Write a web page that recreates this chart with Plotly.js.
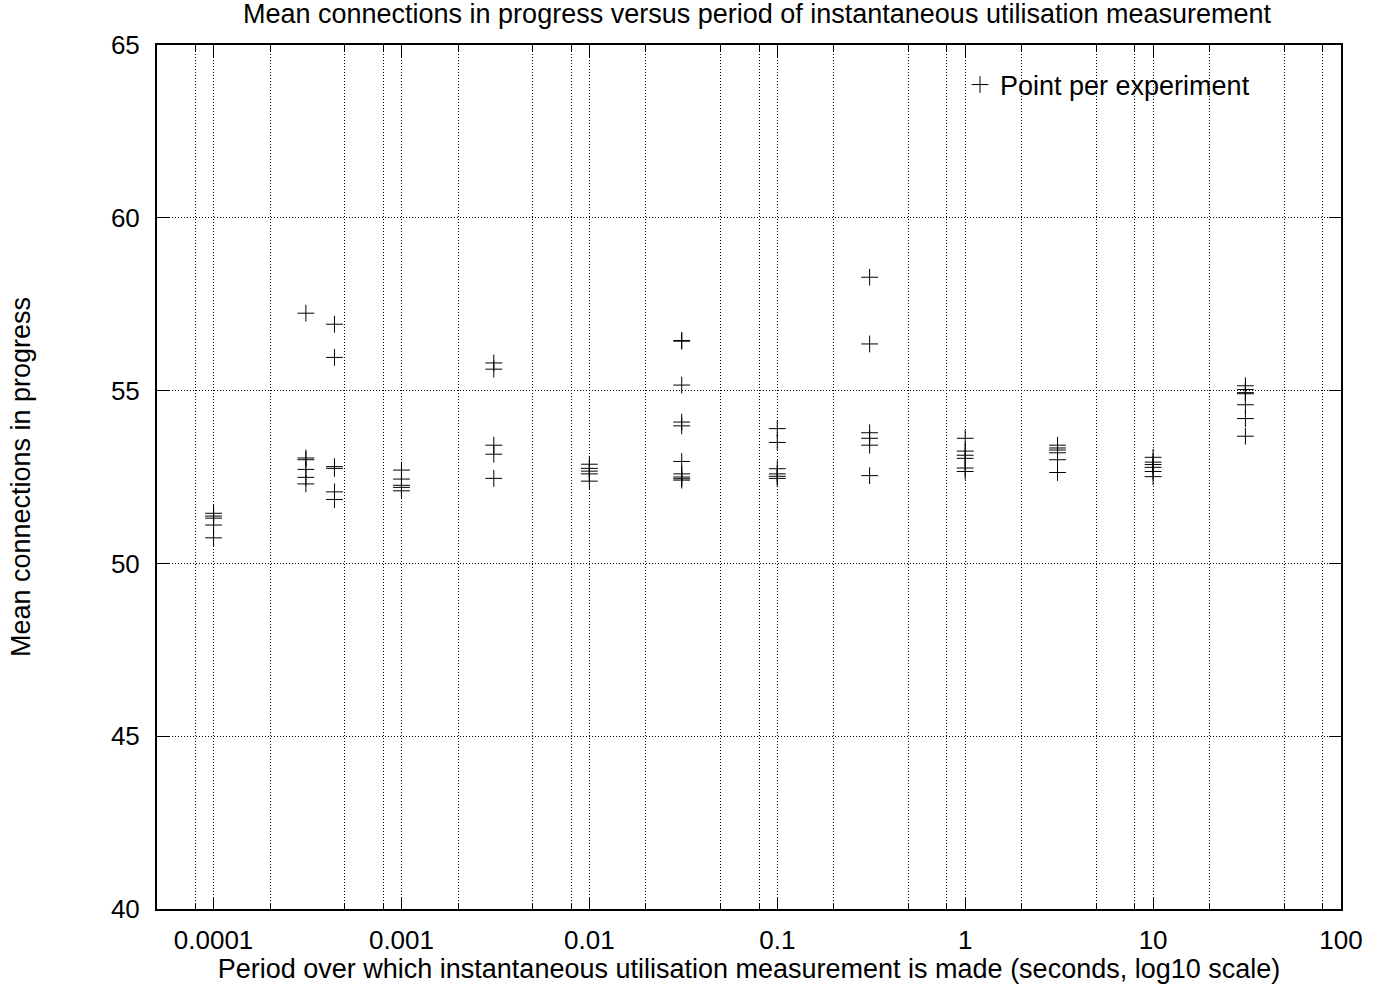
<!DOCTYPE html>
<html>
<head>
<meta charset="utf-8">
<script src="https://cdn.plot.ly/plotly-3.0.1.min.js"></script>
<style>html,body{margin:0;padding:0;background:#fff;}#chart{width:1379px;height:984px;}</style>
</head>
<body>
<div id="chart"></div>
<script>
// Measurement periods (seconds) and the mean connections measured in each experiment
const periods = [0.0001, 0.00031, 0.00044, 0.001, 0.0031, 0.01, 0.031, 0.1, 0.31, 1, 3.1, 10, 31];
const at_0_0001 = [51.45, 51.37, 51.31, 51.11, 50.74];
const at_0_00031 = [57.24, 53.05, 53.00, 52.72, 52.49, 52.30];
const at_0_00044 = [56.92, 55.96, 52.80, 52.75, 52.07, 51.85];
const at_0_001 = [52.70, 52.44, 52.26, 52.20, 52.10];
const at_0_0031 = [55.80, 55.62, 53.42, 53.16, 52.46];
const at_0_01 = [52.87, 52.75, 52.67, 52.59, 52.38];
const at_0_031 = [56.45, 56.43, 55.16, 54.09, 53.98, 52.95, 52.59, 52.50, 52.45, 52.41];
const at_0_1 = [53.90, 53.50, 52.74, 52.59, 52.52, 52.46];
const at_0_31 = [58.28, 56.35, 53.78, 53.62, 53.42, 52.54];
const at_1 = [53.62, 53.25, 53.13, 53.04, 52.76, 52.66];
const at_3_1 = [53.42, 53.34, 53.28, 53.20, 53.00, 52.63];
const at_10 = [53.07, 52.93, 52.86, 52.78, 52.66, 52.51];
const at_31 = [55.14, 55.03, 54.94, 54.91, 54.59, 54.19, 53.68];

const xTickVals = [0.0001, 0.001, 0.01, 0.1, 1, 10, 100];
const xTickText = ["0.0001", "0.001", "0.01", "0.1", "1", "10", "100"];
const xMinorVals = [0.00008, 0.0002, 0.0005, 0.0008, 0.002, 0.005, 0.008, 0.02, 0.05, 0.08,
                    0.2, 0.5, 0.8, 2, 5, 8, 20, 50, 80];
const yTickVals = [40, 45, 50, 55, 60, 65];

const groups = [at_0_0001, at_0_00031, at_0_00044, at_0_001, at_0_0031, at_0_01, at_0_031,
                at_0_1, at_0_31, at_1, at_3_1, at_10, at_31];
const xs = [], ys = [];
groups.forEach((g, i) => g.forEach(v => { xs.push(periods[i]); ys.push(v); }));

const FONT = "Liberation Sans, Arial, Helvetica, sans-serif";
const FS_TICK = 26;
const FS_TEXT = 27;
const DOT = "1px,2px";

const trace = {
  type: "scatter",
  mode: "markers",
  name: "Point per experiment",
  x: xs,
  y: ys,
  marker: {symbol: "cross-thin-open", size: 12, color: "#000", line: {color: "#000", width: 1}}
};

const layout = {
  width: 1379,
  height: 984,
  margin: {l: 157, r: 38, t: 45, b: 75, pad: 0},
  paper_bgcolor: "#fff",
  plot_bgcolor: "#fff",
  font: {family: FONT, size: FS_TEXT, color: "#000"},
  title: {
    text: "Mean connections in progress versus period of instantaneous utilisation measurement",
    font: {family: FONT, size: FS_TEXT, color: "#000"},
    x: 757 / 1379, xref: "container", xanchor: "center",
    y: 1 - 14 / 984, yref: "container", yanchor: "middle"
  },
  showlegend: true,
  legend: {
    x: (1255 - 157) / 1184, xanchor: "right",
    y: 1 - (85 - 45) / 864, yanchor: "middle",
    bgcolor: "rgba(0,0,0,0)",
    font: {family: FONT, size: FS_TEXT, color: "#000"}
  },
  xaxis: {
    type: "log",
    range: [Math.log10(5e-5), 2],
    tickmode: "array",
    tickvals: xTickVals,
    ticktext: xTickText,
    ticks: "inside", ticklen: 12, tickwidth: 1, tickcolor: "#000",
    ticklabelstandoff: 7,
    showline: true, linecolor: "#000", linewidth: 2, mirror: "ticks",
    showgrid: true, gridcolor: "#000", gridwidth: 1, griddash: DOT,
    zeroline: false,
    tickfont: {family: FONT, size: FS_TICK, color: "#000"},
    minor: {
      tickmode: "array",
      tickvals: xMinorVals,
      ticks: "inside", ticklen: 6, tickwidth: 1, tickcolor: "#000",
      showgrid: true, gridcolor: "#000", gridwidth: 1, griddash: DOT
    },
    title: {
      text: "Period over which instantaneous utilisation measurement is made (seconds, log10 scale)",
      font: {family: FONT, size: FS_TEXT, color: "#000"},
      standoff: 0
    }
  },
  yaxis: {
    range: [40, 65],
    tickmode: "array",
    tickvals: yTickVals,
    ticks: "inside", ticklen: 12, tickwidth: 1, tickcolor: "#000",
    ticklabelstandoff: 10,
    showline: true, linecolor: "#000", linewidth: 2, mirror: "ticks",
    showgrid: true, gridcolor: "#000", gridwidth: 1, griddash: DOT,
    zeroline: false,
    tickfont: {family: FONT, size: FS_TICK, color: "#000"},
    title: {
      text: "Mean connections in progress",
      font: {family: FONT, size: FS_TEXT, color: "#000"},
      standoff: 72
    }
  }
};

Plotly.newPlot("chart", [trace], layout, {displayModeBar: false, responsive: false});
</script>
</body>
</html>
